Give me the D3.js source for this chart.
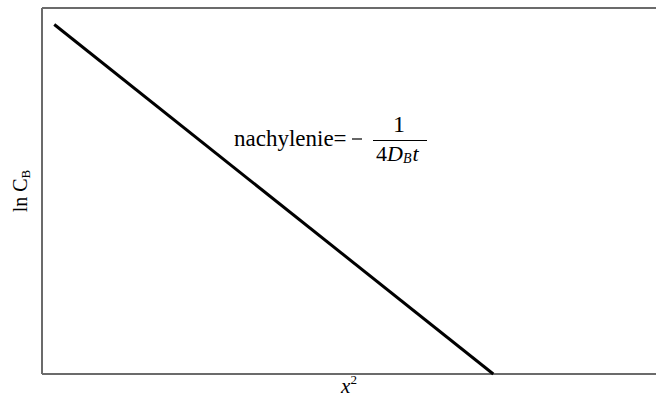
<!DOCTYPE html>
<html>
<head>
<meta charset="utf-8">
<script src="https://cdn.jsdelivr.net/npm/d3@7"></script>
<style>
  html, body { margin: 0; padding: 0; background: #fff; }
  svg { display: block; }
</style>
</head>
<body>
<svg id="chart" width="656" height="399"></svg>
<script>
// Linear decay of ln C_B against x^2 (arbitrary units, no ticks)
const xSquared = [0.02, 0.735];
const lnCB = [0.955, 0.0];
const xDomain = [0, 1];
const yDomain = [0, 1];

const width = 656, height = 399;
const margin = { top: 8, right: 0, bottom: 25, left: 42 };
const serif = "'Liberation Serif', 'Times New Roman', 'DejaVu Serif', serif";

const svg = d3.select("#chart");

const x = d3.scaleLinear().domain(xDomain).range([margin.left, width - margin.right]);
const y = d3.scaleLinear().domain(yDomain).range([height - margin.bottom, margin.top]);

// frame: left, top and bottom edges
const frame = svg.append("g").attr("stroke", "#6b6b6b").attr("stroke-width", 2).attr("fill", "none");
frame.append("line").attr("x1", x(0)).attr("x2", x(0)).attr("y1", y(1)).attr("y2", y(0));
frame.append("line").attr("x1", x(0)).attr("x2", x(1)).attr("y1", y(1)).attr("y2", y(1));
frame.append("line").attr("x1", x(0)).attr("x2", x(1)).attr("y1", y(0)).attr("y2", y(0));

// the straight line
const pts = xSquared.map((d, i) => [d, lnCB[i]]);
svg.append("path")
  .datum(pts)
  .attr("fill", "none")
  .attr("stroke", "#000")
  .attr("stroke-width", 3)
  .attr("d", d3.line().x(d => x(d[0])).y(d => y(d[1])));

// slope annotation
const ann = svg.append("g").attr("font-family", serif).attr("fill", "#000");
ann.append("text")
  .attr("x", 234).attr("y", 145.5)
  .attr("font-size", 23)
  .text("nachylenie=");
ann.append("line")
  .attr("x1", 352).attr("x2", 362).attr("y1", 139).attr("y2", 139)
  .attr("stroke", "#000").attr("stroke-width", 1.2);
ann.append("line")
  .attr("x1", 373).attr("x2", 427).attr("y1", 140.5).attr("y2", 140.5)
  .attr("stroke", "#000").attr("stroke-width", 1.2);
ann.append("text")
  .attr("x", 399).attr("y", 132)
  .attr("text-anchor", "middle")
  .attr("font-size", 24)
  .text("1");
const den = ann.append("text")
  .attr("x", 376).attr("y", 161)
  .attr("font-size", 22);
den.append("tspan").text("4");
den.append("tspan").attr("font-style", "italic").text("D");
den.append("tspan").attr("font-style", "italic").attr("font-size", 14).attr("dy", 2).text("B");
den.append("tspan").attr("font-style", "italic").attr("dy", -2).attr("dx", 1).text("t");

// axis titles
const yTitle = svg.append("text")
  .attr("font-family", serif)
  .attr("transform", `translate(27,${(y(0) + y(1)) / 2}) rotate(-90)`)
  .attr("text-anchor", "middle")
  .attr("font-size", 20);
yTitle.append("tspan").text("ln C");
yTitle.append("tspan").attr("font-size", 13).attr("dy", 3).text("B");

const xTitle = svg.append("text")
  .attr("font-family", serif)
  .attr("x", (x(0) + x(1)) / 2).attr("y", 393)
  .attr("text-anchor", "middle")
  .attr("font-size", 21);
xTitle.append("tspan").attr("font-style", "italic").text("x");
xTitle.append("tspan").attr("font-size", 13).attr("dy", -9).text("2");
</script>
</body>
</html>
